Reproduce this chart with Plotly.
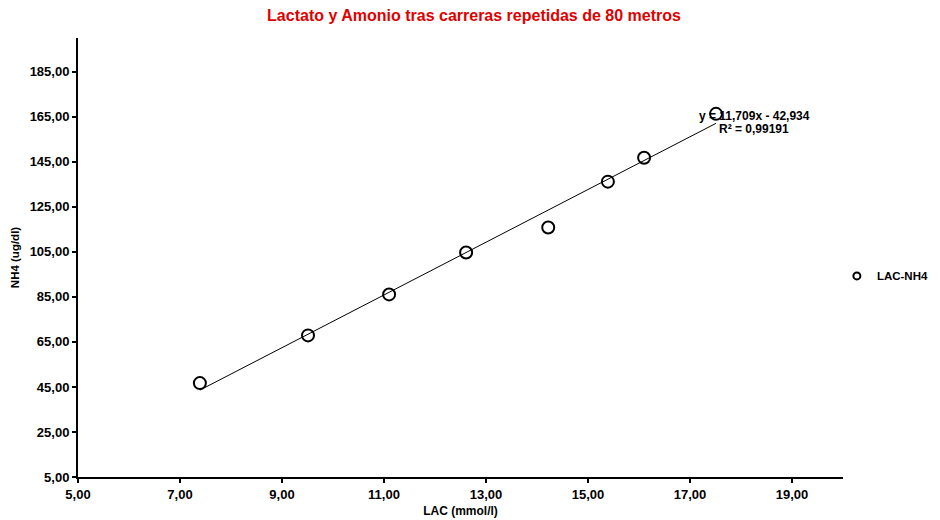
import plotly.graph_objects as go

lac = [7.39, 9.51, 11.10, 12.61, 14.22, 15.39, 16.10, 17.51]
nh4 = [46.7, 67.9, 86.1, 104.7, 115.8, 136.2, 146.8, 166.3]
series_name = "LAC-NH4"
slope = 11.709
intercept = -42.934
r2_text = "R² = 0,99191"
eq_text = "y = 11,709x - 42,934"
x_ticks = [5, 7, 9, 11, 13, 15, 17, 19]
y_ticks = [5, 25, 45, 65, 85, 105, 125, 145, 165, 185]

def fmt(v):
    return f"{v:.2f}".replace(".", ",")

FONT = "Liberation Sans, Arial, sans-serif"

x_line = [min(lac), max(lac)]
y_line = [slope * x + intercept for x in x_line]

fig = go.Figure()
fig.add_trace(go.Scatter(
    x=x_line, y=y_line, mode="lines",
    line=dict(color="black", width=1),
    showlegend=False, hoverinfo="skip"))
fig.add_trace(go.Scatter(
    x=lac, y=nh4, mode="markers", name=series_name, legendgroup="s",
    showlegend=False,
    marker=dict(symbol="circle-open", size=12, color="black", line=dict(width=2, color="black"))))
# legend entry with the smaller symbol used in the reference legend
fig.add_trace(go.Scatter(
    x=[None], y=[None], mode="markers", name=f"<b>{series_name}</b>", legendgroup="s",
    marker=dict(symbol="circle-open", size=7, color="black", line=dict(width=2, color="black"))))

x_anchor = max(lac)
fig.add_annotation(x=x_anchor, y=slope * x_anchor + intercept, xref="x", yref="y",
                   text=f"<b>{eq_text}</b>", showarrow=False,
                   xanchor="left", yanchor="middle", xshift=-19, yshift=7,
                   font=dict(family=FONT, size=12, color="black"))
fig.add_annotation(x=x_anchor, y=slope * x_anchor + intercept, xref="x", yref="y",
                   text=f"<b>{r2_text}</b>", showarrow=False,
                   xanchor="left", yanchor="middle", xshift=1, yshift=-6,
                   font=dict(family=FONT, size=12, color="black"))

fig.update_layout(
    width=932, height=512,
    margin=dict(l=70, r=97, t=30, b=43, autoexpand=False),
    paper_bgcolor="white", plot_bgcolor="white",
    font=dict(family=FONT, size=13, color="black"),
    title=dict(text="<b>Lactato y Amonio tras carreras repetidas de 80 metros</b>",
               x=0.5, xref="container", xanchor="center", y=0.996, yanchor="top",
               font=dict(family=FONT, size=16, color="#e00000")),
    showlegend=True,
    legend=dict(x=0.992, xref="paper", y=0.458, xanchor="left", yanchor="middle",
                font=dict(family=FONT, size=11.5, color="black"),
                itemwidth=30, bgcolor="rgba(0,0,0,0)"),
    xaxis=dict(range=[5, 20], tickvals=x_ticks, ticktext=[f"<b>{fmt(v)}</b>" for v in x_ticks],
               showgrid=False, zeroline=False, showline=True, linecolor="black", linewidth=2,
               ticks="outside", ticklen=4, tickwidth=2, tickcolor="black",
               tickfont=dict(family=FONT, size=13),
               title=dict(text="<b>LAC (mmol/l)</b>", standoff=6, font=dict(family=FONT, size=12))),
    yaxis=dict(range=[5, 200], tickvals=y_ticks, ticktext=[f"<b>{fmt(v)}</b>" for v in y_ticks],
               showgrid=False, zeroline=False, showline=True, linecolor="black", linewidth=2,
               ticks="outside", ticklen=4, tickwidth=2, tickcolor="black",
               tickfont=dict(family=FONT, size=13),
               title=dict(text="<b>NH4 (ug/dl)</b>", standoff=8, font=dict(family=FONT, size=11.5))),
)

fig.write_html("out.html")
